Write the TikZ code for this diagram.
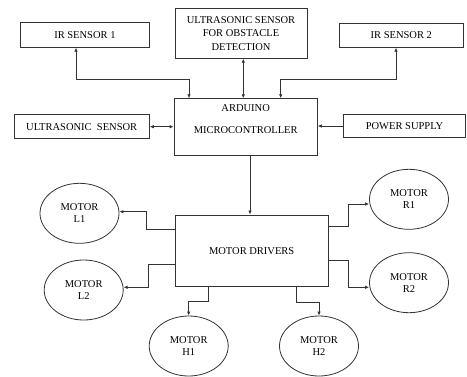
\documentclass[tikz,border=0pt]{standalone}
\usepackage{fontspec}
\setmainfont{Liberation Serif}
\usetikzlibrary{shapes.geometric,arrows.meta,calc}
\begin{document}
\begin{tikzpicture}[x=1pt,y=-1pt,
  font=\fontsize{10.5}{12}\selectfont,
  box/.style={draw=black!80,line width=0.8pt,rectangle,inner sep=0pt,align=center},
  motor/.style={draw=black!80,line width=0.8pt,ellipse,minimum width=79pt,minimum height=60pt,inner sep=0pt,align=center},
  conn/.style={draw=black!80,line width=0.8pt},
  arr/.style={conn,-{Latex[length=4pt,width=3.5pt]}},
  dbl/.style={conn,{Latex[length=4pt,width=3.5pt]}-{Latex[length=4pt,width=3.5pt]}}]
\useasboundingbox (0,0) rectangle (467,376);
% top sensors
\node[box,minimum width=128.3pt,minimum height=24.6pt] (ir1) at (84.9,35) {IR SENSOR 1};
\node[box,minimum width=132pt,minimum height=50pt,font=\fontsize{10.5}{13.5}\selectfont] (obs) at (241,33.3) {ULTRASONIC SENSOR\\FOR OBSTACLE\\DETECTION};
\node[box,minimum width=124pt,minimum height=24pt] (ir2) at (401.3,35.3) {IR SENSOR 2};
% middle row
\node[box,minimum width=143.3pt,minimum height=56.6pt] (ard) at (245.7,127) {};
\node[align=center,inner sep=0pt,font=\fontsize{10.5}{22}\selectfont] (ardtxt) at (245.7,119.5) {ARDUINO\\MICROCONTROLLER};
\node[box,minimum width=135.3pt,minimum height=24pt] (us) at (81.7,126.7) {ULTRASONIC\ \ SENSOR};
\node[box,minimum width=122.4pt,minimum height=22.6pt] (ps) at (404.5,126) {POWER SUPPLY};
% motor drivers
\node[box,minimum width=153.3pt,minimum height=71.7pt] (md) at (251.7,250.8) {MOTOR DRIVERS};
% motors
\node[motor] (l1) at (79.5,213.3) {MOTOR\\L1};
\node[motor] (l2) at (83.7,290) {MOTOR\\L2};
\node[motor] (h1) at (188.7,346) {MOTOR\\H1};
\node[motor] (h2) at (319,346) {MOTOR\\H2};
\node[motor] (r1) at (409,199.3) {MOTOR\\R1};
\node[motor] (r2) at (409,282.7) {MOTOR\\R2};
% connectors top
\draw[dbl] ($(ir1.south)+(-8.9,0)$) -- ++(0,31.4) -| ($(ard.north)+(-56.7,0)$);
\coordinate (obsb) at ($(obs.south)+(2.3,0)$);
\draw[dbl] (obsb) -- (obsb |- ard.north);
\draw[dbl] ($(ir2.south)+(-5.3,0)$) -- ++(0,31.4) -| ($(ard.north)+(35,0)$);
\draw[dbl] (us.east) -- (us.east -| ard.west);
\draw[arr] (ps.west) -- (ps.west -| ard.east);
\coordinate (ards) at ($(ard.south)+(4.3,0)$);
\draw[arr] (ards) -- (ards |- md.north);
% connectors to motors
\draw[arr] ($(md.west)+(0,-21.5)$) -- ++(-28.3,0) |- ($(l1.east)+(0,-1.6)$);
\draw[arr] ($(md.west)+(0,13.2)$) -- ++(-26,0) |- ($(l2.east)+(0,-2.7)$);
\draw[arr] ($(md.south)+(-43.4,0)$) -- ++(0,14) -| (h1.north);
\draw[arr] ($(md.south)+(44.3,0)$) -- ++(0,15) -| (h2.north);
\draw[arr] ($(md.east)+(0,-24.8)$) -- ++(20,0) |- ($(r1.west)+(0,4.7)$);
\draw[arr] ($(md.east)+(0,9.2)$) -- ++(20,0) |- ($(r2.west)+(0,4.6)$);
\end{tikzpicture}
\end{document}
